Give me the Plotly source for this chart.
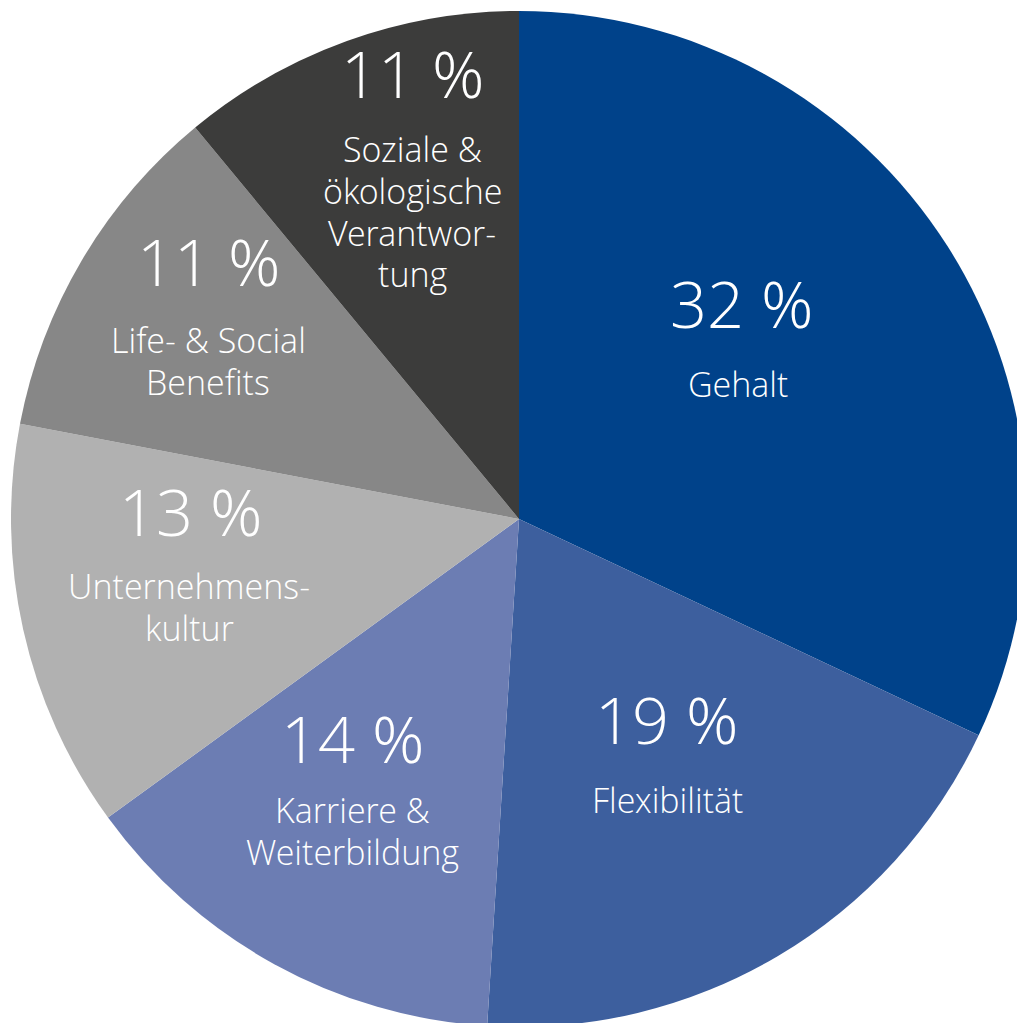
import plotly.graph_objects as go

# Shares of the factors, clockwise from 12 o'clock
categories = [
    "Gehalt",
    "Flexibilität",
    "Karriere & Weiterbildung",
    "Unternehmenskultur",
    "Life- & Social Benefits",
    "Soziale & ökologische Verantwortung",
]
values = [32, 19, 14, 13, 11, 11]
label_lines = [
    ["Gehalt"],
    ["Flexibilität"],
    ["Karriere &", "Weiterbildung"],
    ["Unternehmens-", "kultur"],
    ["Life- & Social", "Benefits"],
    ["Soziale &", "ökologische", "Verantwor-", "tung"],
]
colors = ["#00428A", "#3D5F9E", "#6C7DB3", "#B1B1B1", "#878787", "#3C3C3B"]

# Canvas and pie geometry in pixels
W, H = 1040, 1040
cx, cy, r = 519, 519, 508

# Text anchors (pixel centres): percentage line, then first line of the name block
pct_pos = [(742, 303), (667, 719), (353, 738), (191, 511), (209, 261), (413, 73)]
name_pos = [(738, 384), (667, 800), (352, 810), (189, 586), (208, 340), (412, 149)]
line_gap = 41.8

fig = go.Figure(
    go.Pie(
        labels=categories,
        values=values,
        marker=dict(colors=colors, line=dict(width=0)),
        sort=False,
        direction="clockwise",
        rotation=0,
        textinfo="none",
        hoverinfo="skip",
        showlegend=False,
        domain=dict(
            x=[(cx - r) / W, (cx + r) / W],
            y=[1 - (cy + r) / H, 1 - (cy - r) / H],
        ),
    )
)

font_family = "Open Sans Light, Open Sans"
for v, lines, (px, py), (nx, ny) in zip(values, label_lines, pct_pos, name_pos):
    fig.add_annotation(
        x=px / W, y=1 - py / H, xref="paper", yref="paper",
        text=f"{v} %", showarrow=False, xanchor="center", yanchor="middle",
        font=dict(family=font_family, size=65, color="white", weight=300),
    )
    for i, line in enumerate(lines):
        fig.add_annotation(
            x=nx / W, y=1 - (ny + i * line_gap) / H, xref="paper", yref="paper",
            text=line, showarrow=False, xanchor="center", yanchor="middle",
            font=dict(family=font_family, size=34, color="white", weight=300),
        )

fig.update_layout(
    width=W,
    height=H,
    margin=dict(l=0, r=0, t=0, b=0),
    paper_bgcolor="white",
    plot_bgcolor="white",
)

fig.write_html(
    "out.html",
    config={"displayModeBar": False},
    post_script="document.documentElement.style.overflow='hidden';document.body.style.overflow='hidden';document.body.style.margin='0';",
)
